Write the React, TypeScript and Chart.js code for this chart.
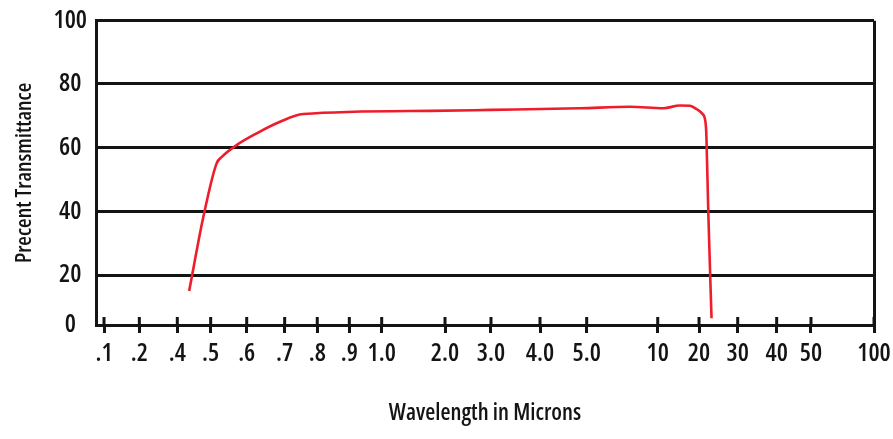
import React, { useEffect, useRef } from "react";
import { Chart, registerables, LinearScale } from "chart.js";

// ---- data ----
const WAVELENGTH = [0.433, 0.476, 0.515, 0.529, 0.57, 0.625, 0.687, 0.755, 1.7, 3.0, 4.84, 7.63, 11.0, 14.5, 17.2, 19.24, 20.57, 21.3, 21.5, 21.6, 22.05, 22.8];
const TRANSMITTANCE = [13.6, 38.3, 55.1, 57.2, 60.9, 64.6, 68.2, 70.6, 71.6, 71.9, 72.4, 72.9, 72.4, 73.3, 73.2, 72.1, 70.9, 69.0, 66.7, 64.0, 39.4, 2.7];

// ---- axis ticks ----
const X_TICKS = [0.1, 0.2, 0.4, 0.5, 0.6, 0.7, 0.8, 0.9, 1, 2, 3, 4, 5, 10, 20, 30, 40, 50, 100];
const X_LABELS = [".1", ".2", ".4", ".5", ".6", ".7", ".8", ".9", "1.0", "2.0", "3.0", "4.0", "5.0", "10", "20", "30", "40", "50", "100"];
const Y_TICKS = [0, 20, 40, 60, 80, 100];
const Y_LABELS = ["0", "20", "40", "60", "80", "100"];

// ---- axis layout (fraction of the plot length at which each tick sits) ----
const X_STOPS = [0.0103, 0.0557, 0.1045, 0.1474, 0.1937, 0.2425, 0.2844, 0.3256, 0.3672, 0.4486, 0.5077, 0.5707, 0.6307, 0.722, 0.7751, 0.8248, 0.8749, 0.919, 1.0];
const Y_STOPS = [0, 0.1643, 0.3723, 0.5817, 0.792, 1.0];

const AXIS = "#141414";
const RED = "#ee1d2b";
const FONT = "'Open Sans', 'DejaVu Sans Condensed', sans-serif";

function makePiecewise(id: string, anchors: number[], stops: number[], log: boolean) {
  const f = (v: number) => (log ? Math.log(v) : v);
  const finv = (v: number) => (log ? Math.exp(v) : v);
  const A = anchors.map(f);
  class Piecewise extends (LinearScale as any) {
    static id = id;
    static defaults = {};
    determineDataLimits() {
      (this as any).min = anchors[0];
      (this as any).max = anchors[anchors.length - 1];
    }
    buildTicks() {
      return anchors.map((v) => ({ value: v }));
    }
    toDecimal(value: number) {
      const v = f(value);
      let i = 0;
      while (i < A.length - 2 && v > A[i + 1]) i++;
      const t = (v - A[i]) / (A[i + 1] - A[i]);
      return stops[i] + t * (stops[i + 1] - stops[i]);
    }
    fromDecimal(d: number) {
      let i = 0;
      while (i < stops.length - 2 && d > stops[i + 1]) i++;
      const t = (d - stops[i]) / (stops[i + 1] - stops[i]);
      return finv(A[i] + t * (A[i + 1] - A[i]));
    }
    getPixelForValue(value: number) {
      return (this as any).getPixelForDecimal(this.toDecimal(value));
    }
    getValueForPixel(pixel: number) {
      return this.fromDecimal((this as any).getDecimalForPixel(pixel));
    }
  }
  return Piecewise;
}

const XScale = makePiecewise("wavelength", X_TICKS, X_STOPS, true);
const YScale = makePiecewise("percent", Y_TICKS, Y_STOPS, false);
Chart.register(...registerables, XScale as any, YScale as any);

// tick marks cross the x axis: draw the half that sits inside the plot
const tickUp = {
  id: "tickUp",
  beforeDatasetsDraw(chart: any) {
    const s = chart.scales.x;
    const ctx = chart.ctx;
    const b = chart.chartArea.bottom;
    ctx.save();
    ctx.strokeStyle = AXIS;
    ctx.lineWidth = 3;
    s.ticks.forEach((_: any, i: number) => {
      const px = s.getPixelForTick(i);
      ctx.beginPath();
      ctx.moveTo(px, b - 8);
      ctx.lineTo(px, b);
      ctx.stroke();
    });
    ctx.restore();
  },
};

// make every font the chart sets use the condensed width of the family
function condense(ctx: CanvasRenderingContext2D) {
  const desc = Object.getOwnPropertyDescriptor(CanvasRenderingContext2D.prototype, "font");
  if (!desc || !desc.set || !desc.get) return;
  Object.defineProperty(ctx, "font", {
    configurable: true,
    get() {
      return desc.get!.call(this);
    },
    set(v: string) {
      desc.set!.call(this, v);
      (this as any).fontStretch = "condensed";
    },
  });
}

export default function App() {
  const ref = useRef<HTMLCanvasElement>(null);
  useEffect(() => {
    if (!ref.current) return;
    const ctx2d = ref.current.getContext("2d");
    if (ctx2d) condense(ctx2d);
    const chart = new Chart(ref.current, {
      type: "line",
      data: {
        datasets: [
          {
            data: WAVELENGTH.map((x, i) => ({ x, y: TRANSMITTANCE[i] })),
            borderColor: RED,
            borderWidth: 2.6,
            pointRadius: 0,
            fill: false,
            cubicInterpolationMode: "monotone",
          },
        ],
      },
      options: {
        animation: false,
        responsive: false,
        devicePixelRatio: 1,
        layout: { padding: { top: 20.7, right: 19, left: 0, bottom: 0 } },
        plugins: { legend: { display: false }, tooltip: { enabled: false } },
        scales: {
          x: {
            type: "wavelength" as any,
            position: "bottom",
            grid: {
              display: true,
              drawOnChartArea: true,
              color: (c: any) => (c.index === X_TICKS.length - 1 ? AXIS : "rgba(0,0,0,0)"),
              lineWidth: 3,
              drawTicks: true,
              tickLength: 8,
              tickColor: AXIS,
              tickWidth: 3,
            },
            border: { display: true, color: AXIS, width: 3 },
            ticks: {
              autoSkip: false,
              maxRotation: 0,
              minRotation: 0,
              padding: 6,
              color: AXIS,
              font: { family: FONT, size: 25, weight: "600" },
              callback: (_v: any, i: number) => X_LABELS[i],
            },
            title: {
              display: true,
              text: "Wavelength in Microns",
              color: AXIS,
              font: { family: FONT, size: 23, weight: "600" },
              padding: { top: 0, bottom: 12 },
            },
            afterFit: (s: any) => {
              s.height = 114;
              s.paddingLeft = 0;
              s.paddingRight = 0;
            },
          } as any,
          y: {
            type: "percent" as any,
            position: "left",
            grid: {
              display: true,
              drawOnChartArea: true,
              drawTicks: false,
              color: AXIS,
              lineWidth: 3,
            },
            border: { display: true, color: AXIS, width: 3 },
            ticks: {
              crossAlign: "center",
              padding: 9,
              color: AXIS,
              font: { family: FONT, size: 25, weight: "600" },
              callback: (_v: any, i: number) => Y_LABELS[i],
            },
            title: {
              display: true,
              text: "Precent Transmittance",
              color: AXIS,
              font: { family: FONT, size: 22, weight: "600" },
              padding: { top: 12, bottom: 0 },
            },
            afterFit: (s: any) => {
              s.width = 96;
              s.paddingTop = 0;
              s.paddingBottom = 0;
            },
          } as any,
        },
      },
      plugins: [tickUp],
    });
    return () => chart.destroy();
  }, []);
  return (
    <div style={{ position: "fixed", left: 0, top: 0, width: 893, height: 439, background: "#fff" }}>
      <canvas ref={ref} width={893} height={439} style={{ width: 893, height: 439, display: "block" }} />
    </div>
  );
}
